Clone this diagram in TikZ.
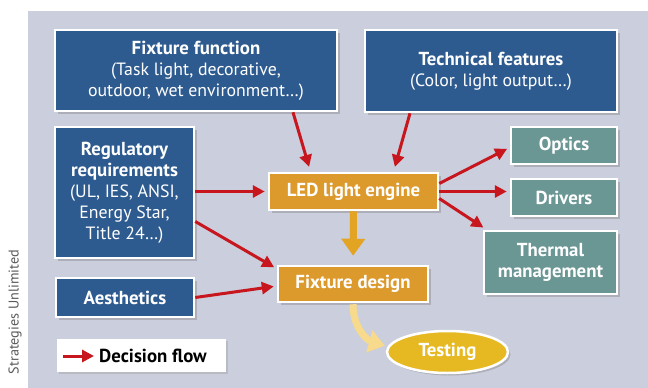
\documentclass[tikz,border=0pt]{standalone}
\usepackage{fontspec}
\setmainfont{PT Sans}
\usepackage{tikz}
\usetikzlibrary{arrows.meta}
\usetikzlibrary{shapes.geometric,shadows}
\usepackage{xcolor}

\definecolor{panel}{HTML}{CBCEDC}
\definecolor{inblue}{HTML}{2E5B8F}
\definecolor{outteal}{HTML}{6A9694}
\definecolor{engorange}{HTML}{DC9A2C}
\definecolor{testyellow}{HTML}{E6B922}
\definecolor{flowred}{HTML}{C8161E}
\definecolor{downorange}{HTML}{E3A323}
\definecolor{paleyellow}{HTML}{F7DA8C}

\newcommand{\boxfont}{\fontsize{17.8}{21}\selectfont}
\newcommand{\headfont}{\fontsize{18.8}{21}\selectfont\bfseries}

\tikzset{
  plainbox/.style={draw=white, line width=2.5pt, text=white, align=center, inner sep=0pt,
    font=\boxfont,
    drop shadow={shadow xshift=2.5pt, shadow yshift=-2.5pt, opacity=.4}},
  inbox/.style={plainbox, fill=inblue},
  outbox/.style={plainbox, fill=outteal, font=\headfont},
  engbox/.style={plainbox, fill=engorange, font=\headfont},
  flow/.style={draw=flowred, line width=3pt, -{Triangle[length=12pt,width=12pt]}},
}

\begin{document}
\begin{tikzpicture}[x=1pt,y=-1pt]
	\useasboundingbox (0,0) rectangle (648,388);
	\fill[panel] (28,11) rectangle (648,388);
	\node[rotate=90, text=black!65, font=\fontsize{14.2}{16}\selectfont, inner sep=0] (credit) at (15,312) {Strategies Unlimited};

	% inputs
	\node[inbox, minimum width=282pt, minimum height=81pt] (func) at (196,70.5)
		{{\headfont Fixture function}\\(Task light, decorative,\\outdoor, wet environment\ldots)};
	\node[inbox, minimum width=252pt, minimum height=82pt] (tech) at (491,71)
		{{\headfont Technical features}\\(Color, light output\ldots)};
	\node[inbox, minimum width=139pt, minimum height=131pt] (reg) at (124.5,192.5)
		{{\headfont Regulatory}\\{\headfont requirements}\\(UL, IES, ANSI,\\Energy Star,\\Title 24\ldots)};
	\node[inbox, minimum width=138pt, minimum height=39pt, font=\headfont] (aes) at (125,297.5) {Aesthetics};

	% engine and design
	\node[engbox, minimum width=169pt, minimum height=37pt] (led) at (353.5,191.5) {LED light engine};
	\node[engbox, minimum width=150pt, minimum height=36pt] (fdes) at (353,284) {Fixture design};
	\node[plainbox, ellipse, fill=testyellow, font=\headfont, minimum width=121pt, minimum height=42pt] (testing) at (447.5,352) {Testing};

	% outputs
	\node[outbox, minimum width=106pt, minimum height=37pt] (optics) at (564,145.5) {Optics};
	\node[outbox, minimum width=106pt, minimum height=37pt] (drivers) at (564,197.5) {Drivers};
	\node[outbox, minimum width=133pt, minimum height=63pt] (thermal) at (550.5,262.5) {Thermal\\management};

	% decision flow
	\draw[flow, shorten >=5pt] ([xshift=97pt]func.south) -- ([xshift=-43pt]led.north);
	\draw[flow, shorten >=5pt] ([xshift=-81pt]tech.south) -- ([xshift=40pt]led.north);
	\draw[flow, shorten >=3pt] (reg.east |- led.west) -- (led.west);
	\draw[flow, shorten >=3pt] ([yshift=-29pt]reg.east) -- ([yshift=-4pt]fdes.north west);
	\draw[flow, shorten >=3pt] (aes.east) -- ([yshift=-2pt]fdes.west);
	\draw[flow, shorten >=3pt] ([yshift=8pt]led.east) -- ([yshift=-2pt]optics.west);
	\draw[flow, shorten >=3pt] (led.east) -- (led.east -| drivers.west);
	\draw[flow, shorten >=4pt] ([yshift=-7pt]led.east) -- ([xshift=4pt]thermal.north west);

	\draw[downorange, line width=7pt, -{Triangle[length=17pt,width=23pt]}, shorten >=9pt] (led.south) -- (fdes.north);
	\draw[paleyellow, line width=7pt, -{Triangle[length=16pt,width=22pt]}, shorten >=1pt]
		([yshift=-1pt]fdes.south) .. controls +(0,28) and +(-14,-4) .. ([yshift=6pt]testing.west);

	% legend
	\node[fill=white, minimum width=169pt, minimum height=33pt, inner sep=0,
		drop shadow={shadow xshift=2pt, shadow yshift=-2pt, opacity=.25}] (legend) at (141.5,355.5) {};
	\node[anchor=west, font=\headfont, inner sep=0] (legtext) at (99,356) {Decision flow};
	\coordinate (legtail) at (63,356);
	\draw[flow] (legtail) -- ([xshift=-5pt]legtext.west);
\end{tikzpicture}
\end{document}
